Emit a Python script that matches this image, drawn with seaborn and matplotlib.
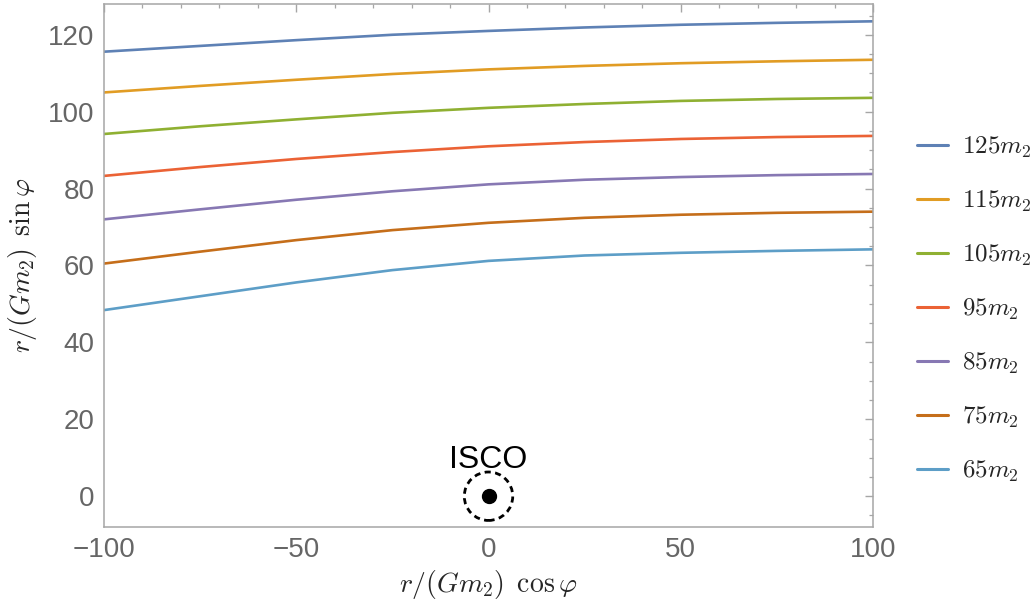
import numpy as np
import pandas as pd
import matplotlib
matplotlib.use("Agg")
import matplotlib.pyplot as plt
from matplotlib.patches import Circle
from matplotlib.lines import Line2D
from matplotlib.ticker import MultipleLocator
import seaborn as sns

# ---- data ----
x_vals = [-100, -75, -50, -25, 0, 25, 50, 75, 100]
labels = ["125", "115", "105", "95", "85", "75", "65"]
y_125 = [115.6, 117.1, 118.6, 120.0, 121.0, 121.9, 122.6, 123.1, 123.5]
y_115 = [105.0, 106.7, 108.3, 109.8, 111.0, 111.9, 112.6, 113.1, 113.5]
y_105 = [94.2, 96.2, 98.0, 99.7, 101.0, 102.0, 102.8, 103.3, 103.6]
y_95 = [83.3, 85.6, 87.7, 89.5, 91.0, 92.1, 92.9, 93.4, 93.7]
y_85 = [72.0, 74.6, 77.1, 79.3, 81.1, 82.3, 83.0, 83.5, 83.8]
y_75 = [60.5, 63.6, 66.6, 69.2, 71.1, 72.4, 73.2, 73.7, 74.0]
y_65 = [48.4, 52.0, 55.6, 58.8, 61.2, 62.6, 63.3, 63.8, 64.2]
colors = ["#5E81B5", "#E19C24", "#8FB032", "#EB6235", "#8778B3", "#C56E1A", "#5D9EC7"]

series = [y_125, y_115, y_105, y_95, y_85, y_75, y_65]
df = pd.concat(
    [pd.DataFrame({"x": x_vals, "y": ys, "label": lab}) for lab, ys in zip(labels, series)],
    ignore_index=True,
)

sns.set_theme(style="white")
plt.rcParams["font.family"] = ["Liberation Sans", "DejaVu Sans"]
plt.rcParams["mathtext.fontset"] = "cm"

fig = plt.figure(figsize=(10.34, 6.16), dpi=100)
ax = fig.add_axes([0.1006, 0.1445, 0.7437, 0.849])

sns.lineplot(data=df, x="x", y="y", hue="label", hue_order=labels,
             palette=colors, linewidth=1.9, legend=False, ax=ax, sort=True)

# ISCO marker
ax.plot([0], [0], "o", color="black", markersize=10, zorder=5)
ax.add_patch(Circle((0, 0), 6.3, fill=False, edgecolor="black",
                    linestyle=(0, (2.2, 1.6)), linewidth=2.0, zorder=5))
ax.text(0, 7.4, "ISCO", ha="center", va="baseline", fontsize=23, color="black")

ax.set_xlim(-100, 100)
ax.set_ylim(-8, 128)
ax.xaxis.set_minor_locator(MultipleLocator(10))
ax.yaxis.set_major_locator(MultipleLocator(20))
ax.yaxis.set_minor_locator(MultipleLocator(5))
ax.set_xticks([-100, -50, 0, 50, 100])
ax.set_xticklabels(["\u2212100", "\u221250", "0", "50", "100"])

frame_col = "#a6a6a6"
for sp in ax.spines.values():
    sp.set_color(frame_col)
    sp.set_linewidth(1.1)
ax.tick_params(which="both", direction="in", top=True, right=True,
               color=frame_col, labelsize=20, labelcolor="#666666")
ax.tick_params(which="major", length=5.5, width=1.0, pad=7)
ax.tick_params(which="minor", length=3.2, width=0.9)

ax.set_xlabel(r"$r/(Gm_2)\ \,\cos\varphi$", fontsize=20, labelpad=4)
ax.set_ylabel(r"$r/(Gm_2)\ \,\sin\varphi$", fontsize=20, labelpad=6)

handles = [Line2D([0], [0], color=c, linewidth=2.2) for c in colors]
leg_labels = [rf"${lab}m_2$" for lab in labels]
fig.legend(handles, leg_labels, loc="center left", bbox_to_anchor=(0.877, 0.497),
           frameon=False, fontsize=18, handlelength=1.25, handletextpad=0.55,
           labelspacing=1.15, borderaxespad=0)

fig.savefig("out.png", dpi=100)
